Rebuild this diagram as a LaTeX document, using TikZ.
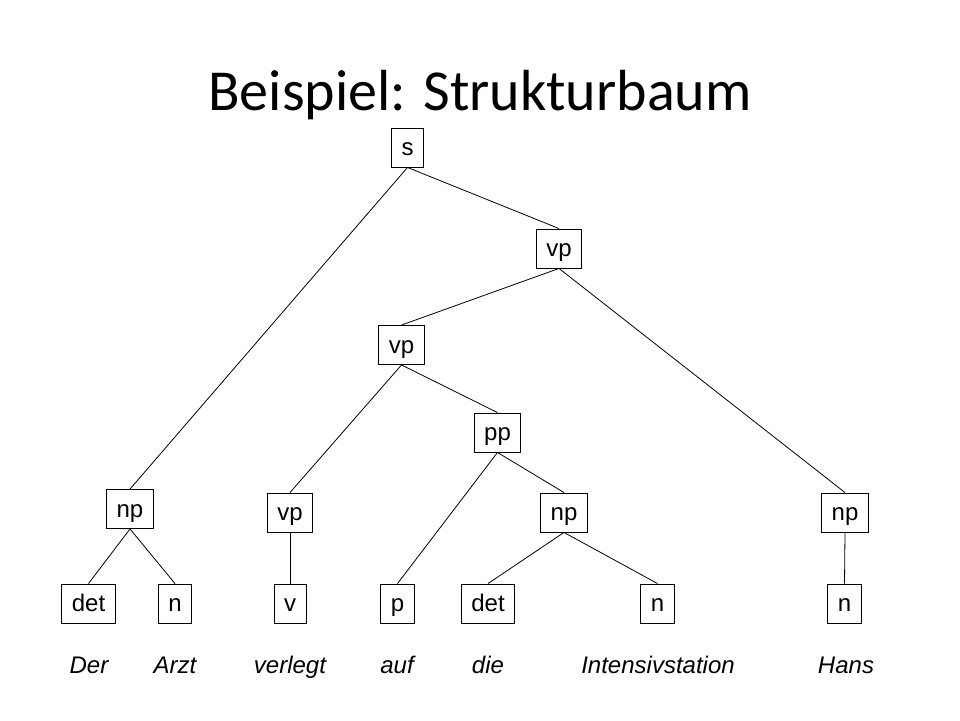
\documentclass[tikz,border=0pt]{standalone}
\usepackage{fontspec}
\setmainfont{Liberation Sans}
\newfontfamily\titlefont{Carlito}
\begin{document}
\begin{tikzpicture}[x=1pt,y=-1pt,
  box/.style={draw, line width=0.9pt, minimum height=39pt, inner xsep=10pt, inner ysep=0pt,
    text height=18.5pt, text depth=2.5pt, font=\fontsize{24}{24}\selectfont, anchor=center},
  word/.style={font=\fontsize{24}{24}\selectfont\itshape, anchor=base, inner sep=0pt},
  edge/.style={line width=0.8pt}]
\useasboundingbox (0,0) rectangle (960,720);
\node[anchor=base, inner sep=0pt, font=\titlefont\fontsize{58}{58}\selectfont] (title) at (480,110) {Beispiel: Strukturbaum};

\node[box] (s) at (407.5,147.5) {s};
\node[box] (vpa) at (559,248.5) {vp};
\node[box] (vpb) at (401.5,345) {vp};
\node[box] (pp) at (497.5,432.5) {pp};
\node[box] (npl) at (130,509) {np};
\node[box] (vpc) at (290,512.5) {vp};
\node[box] (npm) at (564,512.5) {np};
\node[box] (npr) at (845,512.5) {np};
\node[box] (detl) at (88.5,603.5) {det};
\node[box] (nl) at (175,603.5) {n};
\node[box] (v) at (290,603.5) {v};
\node[box] (p) at (397.5,603.5) {p};
\node[box] (detm) at (488,603.5) {det};
\node[box] (nm) at (657.5,603.5) {n};
\node[box] (nr) at (844.5,603.5) {n};

\node[word] (w1) at (89,673) {Der};
\node[word] (w2) at (175,673) {Arzt};
\node[word] (w3) at (290,673) {verlegt};
\node[word] (w4) at (397,673) {auf};
\node[word] (w5) at (488,673) {die};
\node[word] (w6) at (658,673) {Intensivstation};
\node[word] (w7) at (846,673) {Hans};

\draw[edge] (s.south) -- (npl.north);
\draw[edge] (s.south) -- (vpa.north);
\draw[edge] (vpa.south) -- (vpb.north);
\draw[edge] (vpa.south) -- (npr.north);
\draw[edge] (vpb.south) -- (vpc.north);
\draw[edge] (vpb.south) -- (pp.north);
\draw[edge] (pp.south) -- (p.north);
\draw[edge] (pp.south) -- (npm.north);
\draw[edge] (npl.south) -- (detl.north);
\draw[edge] (npl.south) -- (nl.north);
\draw[edge] (vpc.south) -- (v.north);
\draw[edge] (npm.south) -- (detm.north);
\draw[edge] (npm.south) -- (nm.north);
\draw[edge] (npr.south) -- (nr.north);
\end{tikzpicture}
\end{document}
